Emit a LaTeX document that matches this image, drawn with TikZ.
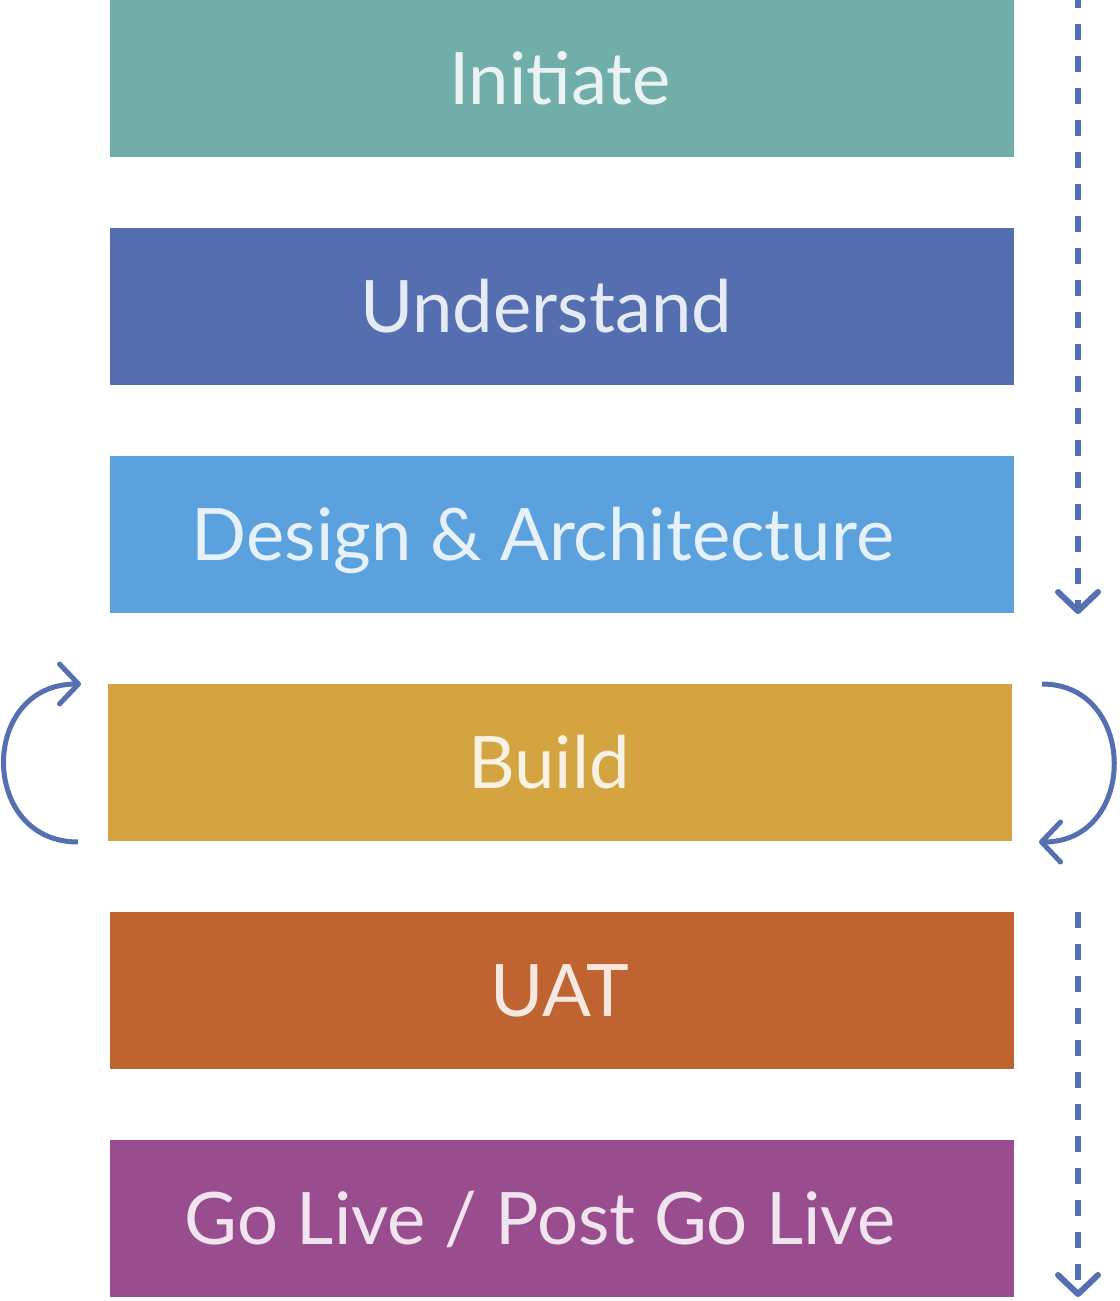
\documentclass[tikz,border=0pt]{standalone}
\usepackage{fontspec}
\setmainfont{Lato}
\usetikzlibrary{arrows.meta}

\definecolor{initc}{HTML}{71AEA9}
\definecolor{understandc}{HTML}{546EB0}
\definecolor{designc}{HTML}{5BA1DE}
\definecolor{buildc}{HTML}{D4A440}
\definecolor{uatc}{HTML}{BF6331}
\definecolor{golivec}{HTML}{9A4D8E}
\definecolor{flowc}{HTML}{5470B2}

\tikzset{
  stage/.style={draw=none, minimum width=904, minimum height=157, inner sep=0pt},
  stagetext/.style={text=white, text opacity=0.86, inner sep=0pt,
    font=\fontsize{72.4}{78}\selectfont, text height=52pt, text depth=0pt},
  flowline/.style={draw=flowc, line width=6pt, dash pattern=on 16pt off 16pt, dash phase=8pt,
    -{Straight Barb[length=19pt, width=40pt, line cap=round, line join=round]}},
  loopline/.style={draw=flowc, line width=5pt,
    -{Straight Barb[length=19pt, width=40pt, line cap=round, line join=round]}}
}

\begin{document}
\begin{tikzpicture}[x=1pt, y=-1pt]
\useasboundingbox (0,0) rectangle (1119,1301);
% stages
\node[stage, fill=initc] (initiate) at (562,78.5) {};
\node[stage, fill=understandc] (understand) at (562,306.5) {};
\node[stage, fill=designc] (design) at (562,534.5) {};
\node[stage, fill=buildc] (build) at (560,762.5) {};
\node[stage, fill=uatc] (uat) at (562,990.5) {};
\node[stage, fill=golivec] (golive) at (562,1218.5) {};
% labels
\node[stagetext, xshift=-2] (initiatelbl) at (initiate) {Initiate};
\node[stagetext, xshift=-16] (understandlbl) at (understand) {Understand};
\node[stagetext, xshift=-19] (designlbl) at (design) {Design \& Architecture};
\node[stagetext, xshift=-11] (buildlbl) at (build) {Build};
\node[stagetext, xshift=-2] (uatlbl) at (uat) {UAT};
\node[stagetext, xshift=-22] (golivelbl) at (golive) {Go Live / Post Go Live};
% flow arrows on the right
\coordinate (flowtop) at (1078,0);
\coordinate (flowmid) at (1078,614);
\coordinate (flowlow) at (1078,912);
\coordinate (flowend) at (1078,1297);
\draw[flowline] (flowtop) -- (flowmid);
\draw[flowline, dash phase=0pt] (flowlow) -- (flowend);
% build loops
\coordinate (lefta) at (78,842);
\coordinate (leftb) at (81,684);
\coordinate (righta) at (1042,684);
\coordinate (rightb) at (1039,842);
\draw[loopline] (lefta) .. controls (-21,842) and (-21,684) .. (leftb);
\draw[loopline] (righta) .. controls (1138,684) and (1138,842) .. (rightb);
\end{tikzpicture}
\end{document}
